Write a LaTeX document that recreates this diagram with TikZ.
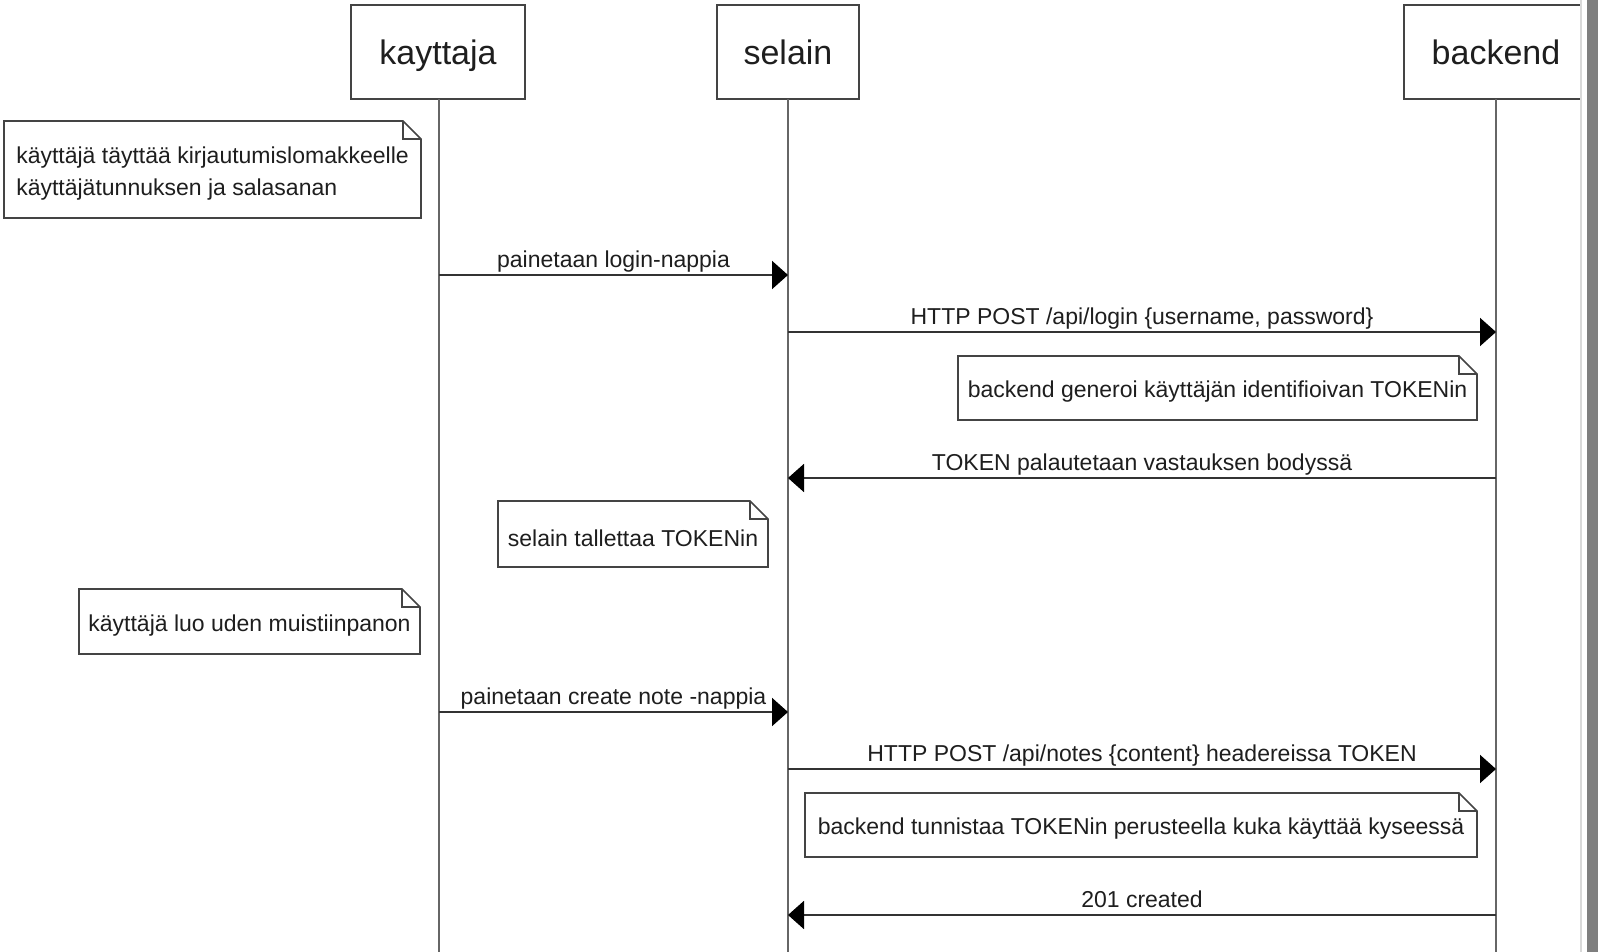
\documentclass[tikz,border=0pt]{standalone}
\usepackage{fontspec}
\setmainfont{Liberation Sans}
\usetikzlibrary{arrows.meta}
\definecolor{linec}{HTML}{444444}
\definecolor{msgc}{HTML}{333333}
\definecolor{lifec}{HTML}{666666}
\definecolor{textc}{HTML}{1E1E1E}
\definecolor{barc}{HTML}{7F7F7F}
\newcommand\notebox[1]{%
  \draw[noteline] (#1.south west) -- (#1.south east) -- ([yshift=-18pt]#1.north east)
    -- ([xshift=-18pt]#1.north east) -- (#1.north west) -- cycle;
  \draw[noteline] ([xshift=-18pt]#1.north east) |- ([yshift=-18pt]#1.north east);}
\tikzset{
  actor/.style={draw=linec, line width=2pt, fill=white, inner sep=0pt, outer sep=0pt,
    minimum height=94pt, text=textc, font=\fontsize{34}{40}\selectfont,
    text height=25pt, text depth=0pt},
  lifeline/.style={draw=lifec, line width=2pt},
  msg/.style={draw=msgc, line width=2pt, -{Triangle[length=16pt,width=28pt,color=black]}},
  lbl/.style={anchor=base, inner sep=0pt, text=textc, font=\fontsize{23}{28}\selectfont},
  note/.style={inner sep=0pt, outer sep=0pt},
  notetext/.style={inner sep=0pt, text=textc, align=left, yshift=-4pt,
    font=\fontsize{23}{32}\selectfont},
  noteline/.style={draw=linec, line width=1.6pt, line join=miter},
}
\begin{document}
\begin{tikzpicture}[x=1pt, y=-1pt]
\useasboundingbox (0,0) rectangle (1598,952);
\fill[white] (0,0) rectangle (1598,952);
% participants
\node[actor, minimum width=174pt] (kay) at (438,52) {kayttaja};
\node[actor, minimum width=142pt] (sel) at (788,52) {selain};
\node[actor, minimum width=184pt] (back) at (1496,52) {backend};
\coordinate (kayend) at (439,952);
\coordinate (selend) at (788,952);
\coordinate (backend) at (1496,952);
\draw[lifeline] (kay.south -| kayend) -- (kayend);
\draw[lifeline] (sel.south) -- (selend);
\draw[lifeline] (back.south) -- (backend);
% notes
\node[note, minimum width=417pt, minimum height=97pt,
  label={[notetext]center:{käyttäjä täyttää kirjautumislomakkeelle\\käyttäjätunnuksen ja salasanan}}]
  (n1) at (212.5,169.5) {};
\notebox{n1}
\node[note, minimum width=519pt, minimum height=64pt,
  label={[notetext]center:{backend generoi käyttäjän identifioivan TOKENin}}]
  (n2) at (1217.5,388) {};
\notebox{n2}
\node[note, minimum width=270pt, minimum height=66pt,
  label={[notetext]center:{selain tallettaa TOKENin}}]
  (n3) at (633,534) {};
\notebox{n3}
\node[note, minimum width=341pt, minimum height=65pt,
  label={[notetext]center:{käyttäjä luo uden muistiinpanon}}]
  (n4) at (249.5,621.5) {};
\notebox{n4}
\node[note, minimum width=672pt, minimum height=64pt,
  label={[notetext]center:{backend tunnistaa TOKENin perusteella kuka käyttää kyseessä}}]
  (n5) at (1141,825) {};
\notebox{n5}
% messages
\draw[msg] (kayend |- 0,275) -- (selend |- 0,275);
\node[lbl] (l1) at (613.5,267.5) {painetaan login-nappia};
\draw[msg] (selend |- 0,332) -- (backend |- 0,332);
\node[lbl] (l2) at (1142,324.5) {HTTP POST /api/login \{username, password\}};
\draw[msg] (backend |- 0,478) -- (selend |- 0,478);
\node[lbl] (l3) at (1142,470.5) {TOKEN palautetaan vastauksen bodyssä};
\draw[msg] (kayend |- 0,712) -- (selend |- 0,712);
\node[lbl] (l4) at (613.5,704.5) {painetaan create note -nappia};
\draw[msg] (selend |- 0,769) -- (backend |- 0,769);
\node[lbl] (l5) at (1142,761.5) {HTTP POST /api/notes \{content\} headereissa TOKEN};
\draw[msg] (backend |- 0,915) -- (selend |- 0,915);
\node[lbl] (l6) at (1142,907.5) {201 created};
% right edge bar
\fill[white] (1580,0) rectangle (1587,952);
\draw[black!15, line width=2pt] (1581,0) -- (1581,952);
\fill[barc] (1587,0) rectangle (1598,952);
\end{tikzpicture}
\end{document}
